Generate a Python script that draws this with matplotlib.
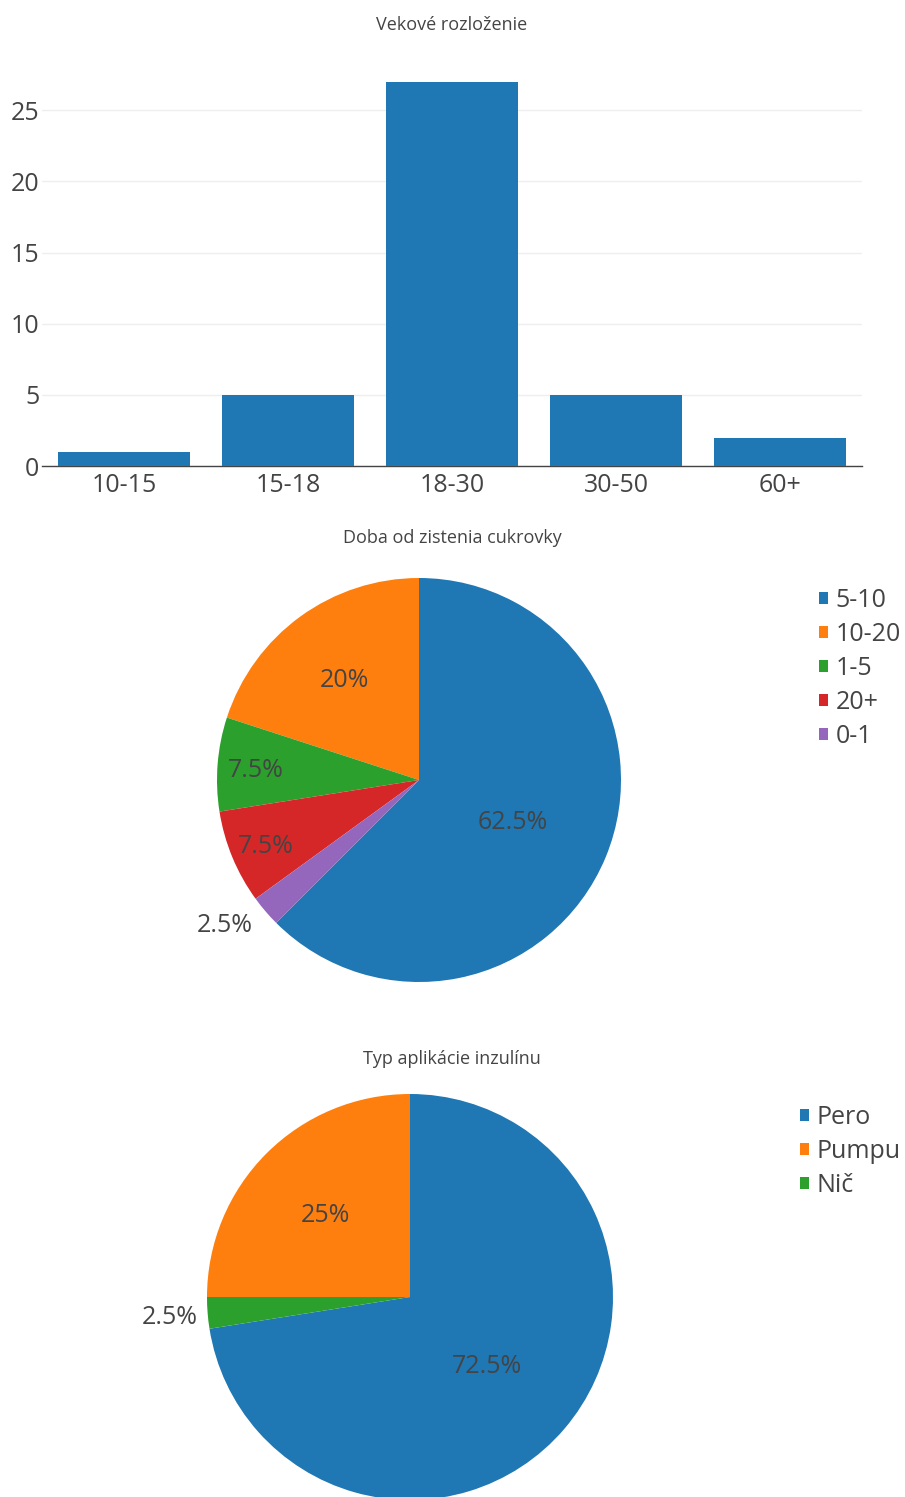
import numpy as np
import matplotlib
matplotlib.use('Agg')
import matplotlib.pyplot as plt

plt.rcParams['font.family'] = ['Open Sans', 'DejaVu Sans']

# data
age_groups = ['10-15', '15-18', '18-30', '30-50', '60+']
age_counts = [1, 5, 27, 5, 2]

since_labels = ['5-10', '10-20', '1-5', '20+', '0-1']
since_counts = [25, 8, 3, 3, 1]

insulin_labels = ['Pero', 'Pumpu', 'Nič']
insulin_counts = [29, 10, 1]

colors = ['#1f77b4', '#ff7f0e', '#2ca02c', '#d62728', '#9467bd']
txt = '#444444'

fig = plt.figure(figsize=(9.05, 14.97), dpi=100)

# bar chart
ax = fig.add_axes([42/905, 1-466/1497, 820/905, 404/1497])
ax.bar(age_groups, age_counts, width=0.8, color=colors[0], zorder=3)
ax.set_xlim(-0.5, 4.5)
ax.set_ylim(0, 28.4)
ax.set_yticks([0, 5, 10, 15, 20, 25])
ax.grid(axis='y', color='#eeeeee', lw=1, zorder=0)
for s in ['top', 'right', 'left']:
    ax.spines[s].set_visible(False)
ax.spines['bottom'].set_color('#444444')
ax.spines['bottom'].set_linewidth(1)
ax.tick_params(length=0, labelsize=18, colors=txt, pad=2)
ax.tick_params(axis='x', pad=5)
fig.text(452/905, 1-25/1497, 'Vekové rozloženie', ha='center', va='center', fontsize=13, color=txt)


def draw_pie(center, r, values, labels, rfac, title, title_y, leg_x, leg_y):
    half = 1.25 * r
    pax = fig.add_axes([(center[0]-half)/905, 1-(center[1]+half)/1497, 2*half/905, 2*half/1497])
    frac0 = values[0] / sum(values)
    wedges, _ = pax.pie(values, colors=colors[:len(values)], startangle=90-360*frac0,
                        counterclock=True, radius=1,
                        wedgeprops=dict(linewidth=0))
    pax.set_xlim(-1.25, 1.25)
    pax.set_ylim(-1.25, 1.25)
    total = sum(values)
    dy = -3.5 / r  # nudge text down a bit
    for w, v, f in zip(wedges, values, rfac):
        mid = np.deg2rad((w.theta1 + w.theta2) / 2)
        pct = 100 * v / total
        s = ('%.1f' % pct).rstrip('0').rstrip('.') + '%'
        ha = 'center'
        if f > 1:
            ha = 'right' if np.cos(mid) < 0 else 'left'
        pax.text(f*np.cos(mid), f*np.sin(mid) + dy, s, ha=ha, va='center',
                 fontsize=18, color=txt)
    fig.text(452/905, 1-(title_y+2)/1497, title, ha='center', va='center', fontsize=13, color=txt)
    fig.legend(wedges, labels, loc='upper left', bbox_to_anchor=(leg_x/905, 1-leg_y/1497),
               frameon=False, fontsize=18, labelcolor=txt, handlelength=0.35,
               handleheight=0.35, handletextpad=0.32, labelspacing=0.36,
               borderpad=0, borderaxespad=0)


draw_pie((419, 780), 202, since_counts, since_labels, [0.5, 0.63, 0.81, 0.82, 1.08],
         'Doba od zistenia cukrovky', 536, 819, 588)
draw_pie((410, 1297), 203, insulin_counts, insulin_labels, [0.5, 0.59, 1.05],
         'Typ aplikácie inzulínu', 1057, 800, 1105)

fig.savefig('out.png', dpi=100)
